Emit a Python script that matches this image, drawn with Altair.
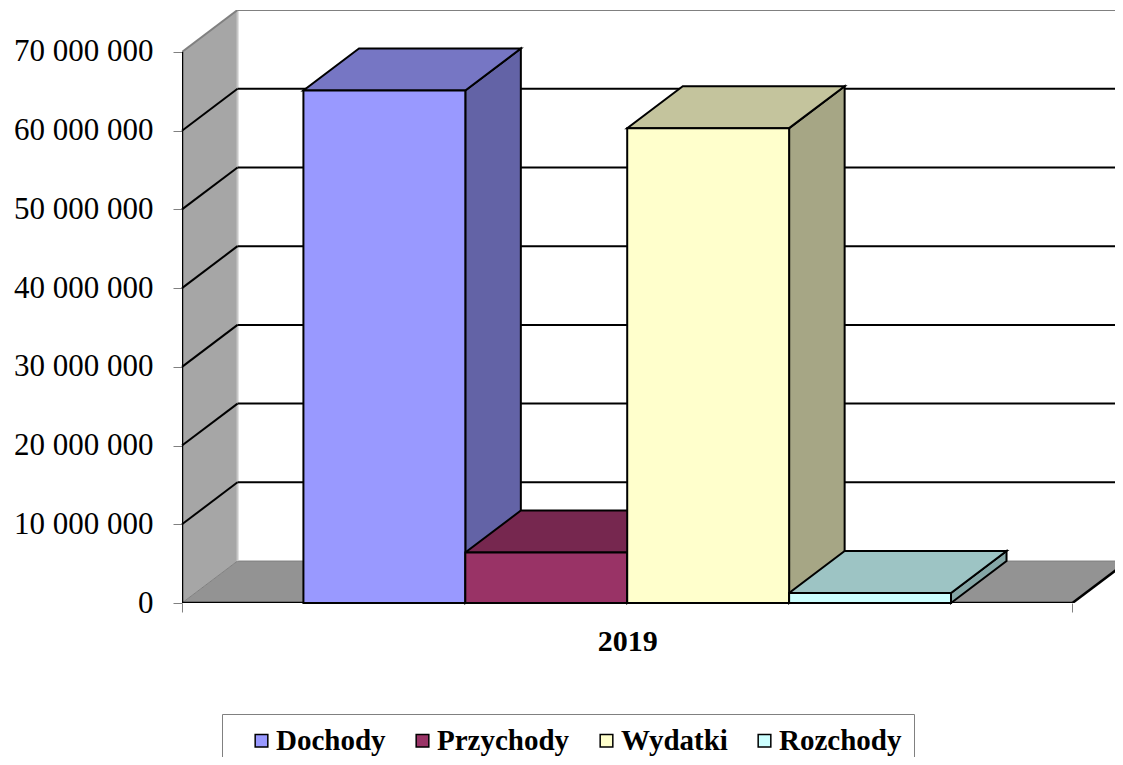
import altair as alt
import pandas as pd

# ---------------- data ----------------
series = ["Dochody", "Przychody", "Wydatki", "Rozchody"]
values = [65_100_000, 6_420_000, 60_320_000, 1_270_000]
category = "2019"
y_ticks = [0, 10_000_000, 20_000_000, 30_000_000, 40_000_000,
           50_000_000, 60_000_000, 70_000_000]

# ---------------- style ----------------
front_colors = ["#9999FF", "#993366", "#FFFFCC", "#CCFFFF"]


def shade(hex_color, f):
    r, g, b = (int(hex_color[i:i + 2], 16) for i in (1, 3, 5))
    return "#{:02x}{:02x}{:02x}".format(round(r * f), round(g * f), round(b * f))


top_colors = [shade(c, 0.77) for c in front_colors]
side_colors = [shade(c, 0.65) for c in front_colors]
FONT = "Liberation Serif"

# ---------------- 3-D geometry (Excel-like oblique projection) ----------------
W, H = 933, 593
GAP = 1.5                       # gap width: 150 % of a bar width
CL = len(series) + GAP          # cluster width, in bar widths
DEPTH_X = 0.343                 # depth offset, in bar widths
Y_MAX = y_ticks[-1]
DEPTH_Y = 5_330_000             # depth offset, in value units
X_MAX = 5.763
Y_TOP = Y_MAX + DEPTH_Y

xs = alt.Scale(domain=[0, X_MAX], nice=False, zero=False)
ys = alt.Scale(domain=[0, Y_TOP], nice=False, zero=False)

x_axis = alt.Axis(
    values=[0, CL / 2, CL], title=None, domain=False, grid=False,
    labelExpr=f"datum.value == {CL / 2} ? '{category}' : ''",
    tickSize=9, tickColor="#808080", tickWidth=1,
    tickOpacity=alt.condition(f"datum.value == {CL / 2}", alt.value(0), alt.value(1)),
    labelFont=FONT, labelFontSize=30, labelFontWeight="bold", labelColor="black",
    labelPadding=14, labelFlush=False, labelOverlap=False,
)
y_axis = alt.Axis(
    values=y_ticks, title=None, domain=False, grid=False,
    labelExpr="replace(format(datum.value, ','), regexp(',', 'g'), ' ')",
    tickSize=9, tickColor="#808080", tickWidth=1,
    labelFont=FONT, labelFontSize=31, labelColor="black", labelPadding=20,
    labelFlush=False, labelOverlap=False,
)


def X(f):
    return alt.X(f"{f}:Q", scale=xs, axis=x_axis, stack=None)


def Y(f):
    return alt.Y(f"{f}:Q", scale=ys, axis=y_axis, stack=None)


# ---------------- frame: walls, floor, gridlines ----------------
left_wall = pd.DataFrame({"x": [0, DEPTH_X], "y": [0, DEPTH_Y], "y2": [Y_MAX, Y_TOP]})
floor = pd.DataFrame({"y": [0, DEPTH_Y], "x": [0, DEPTH_X], "x2": [CL, CL + DEPTH_X]})

grey_edges = pd.DataFrame({
    "x": [DEPTH_X, DEPTH_X, 0],
    "x2": [DEPTH_X, X_MAX + 1, DEPTH_X],
    "y": [DEPTH_Y, Y_TOP, Y_MAX],
    "y2": [Y_TOP, Y_TOP, Y_TOP],
    "c": ["#c8c8c8", "#808080", "#808080"],
})

inner = [v for v in y_ticks if 0 < v < Y_MAX]
grid_back = pd.DataFrame({"x": [DEPTH_X] * len(inner), "x2": [X_MAX + 1] * len(inner),
                          "y": [v + DEPTH_Y for v in inner]})
grid_side = pd.DataFrame({"x": [0] * len(inner), "x2": [DEPTH_X] * len(inner),
                          "y": inner, "y2": [v + DEPTH_Y for v in inner]})
black_edges = pd.DataFrame({
    "x": [0, 0, CL], "x2": [0, CL, CL + DEPTH_X],
    "y": [0, 0, 0], "y2": [Y_MAX, 0, DEPTH_Y],
})

layers = []
layers.append(alt.Chart(left_wall).mark_area(orient="vertical", fill="#a6a6a6", strokeWidth=0)
              .encode(x=X("x"), y=Y("y"), y2="y2"))
layers.append(alt.Chart(floor).mark_area(orient="horizontal", fill="#939393", stroke="#808080",
                                         strokeWidth=1, clip=True)
              .encode(y=Y("y"), x=X("x"), x2="x2"))
layers.append(alt.Chart(grey_edges).mark_rule(strokeWidth=2, clip=True)
              .encode(x=X("x"), x2="x2", y=Y("y"), y2="y2",
                      color=alt.Color("c:N", scale=None, legend=None)))
layers.append(alt.Chart(grid_back).mark_rule(color="black", strokeWidth=2, clip=True)
              .encode(x=X("x"), x2="x2", y=Y("y")))
layers.append(alt.Chart(grid_side).mark_rule(color="black", strokeWidth=2)
              .encode(x=X("x"), x2="x2", y=Y("y"), y2="y2"))
layers.append(alt.Chart(black_edges).mark_rule(color="black", strokeWidth=2.5, clip=True)
              .encode(x=X("x"), x2="x2", y=Y("y"), y2="y2"))

# ---------------- bars: side and top faces, one polygon per bar ----------------
side_layers, top_layers, front_rows = [], [], []
for i, (s, v) in enumerate(zip(series, values)):
    L = GAP / 2 + i
    R = L + 1
    side = pd.DataFrame({"x": [R, R + DEPTH_X], "y": [0, DEPTH_Y], "y2": [v, v + DEPTH_Y]})
    top = pd.DataFrame({"y": [v, v + DEPTH_Y], "x": [L, L + DEPTH_X], "x2": [R, R + DEPTH_X]})
    side_layers.append(
        alt.Chart(side).mark_area(orient="vertical", fill=side_colors[i], stroke="black",
                                  strokeWidth=2, strokeJoin="miter")
        .encode(x=X("x"), y=Y("y"), y2="y2"))
    top_layers.append(
        alt.Chart(top).mark_area(orient="horizontal", fill=top_colors[i], stroke="black",
                                 strokeWidth=2, strokeJoin="miter")
        .encode(y=Y("y"), x=X("x"), x2="x2"))
    front_rows.append({"series": s, "x": L, "x2": R, "y": 0, "y2": v})

layers += side_layers + top_layers

fronts = pd.DataFrame(front_rows)
layers.append(alt.Chart(fronts).mark_bar(stroke="black", strokeWidth=2, cornerRadius=0)
              .encode(
                  x=X("x"), x2="x2", y=Y("y"), y2="y2",
                  fill=alt.Fill("series:N",
                                scale=alt.Scale(domain=series, range=front_colors),
                                legend=alt.Legend(
                                    orient="none", legendX=40, legendY=704,
                                    direction="horizontal", title=None,
                                    symbolType="square", symbolSize=160,
                                    symbolStrokeColor="black", symbolStrokeWidth=1.5,
                                    symbolOffset=13,
                                    labelFont=FONT, labelFontSize=29,
                                    labelFontWeight="bold", labelColor="black",
                                    labelOffset=0, columnPadding=9, padding=12,
                                    strokeColor="#808080", fillColor="white",
                                    labelLimit=400,
                                ))))

chart = (
    alt.layer(*layers)
    .resolve_scale(color="independent")
    .properties(width=W, height=H, autosize="none",
                padding={"left": 174, "top": 2, "right": 0, "bottom": 154},
                background="white")
    .configure_view(stroke=None)
)

chart.save("out.html", embed_options={"renderer": "svg", "actions": False})
